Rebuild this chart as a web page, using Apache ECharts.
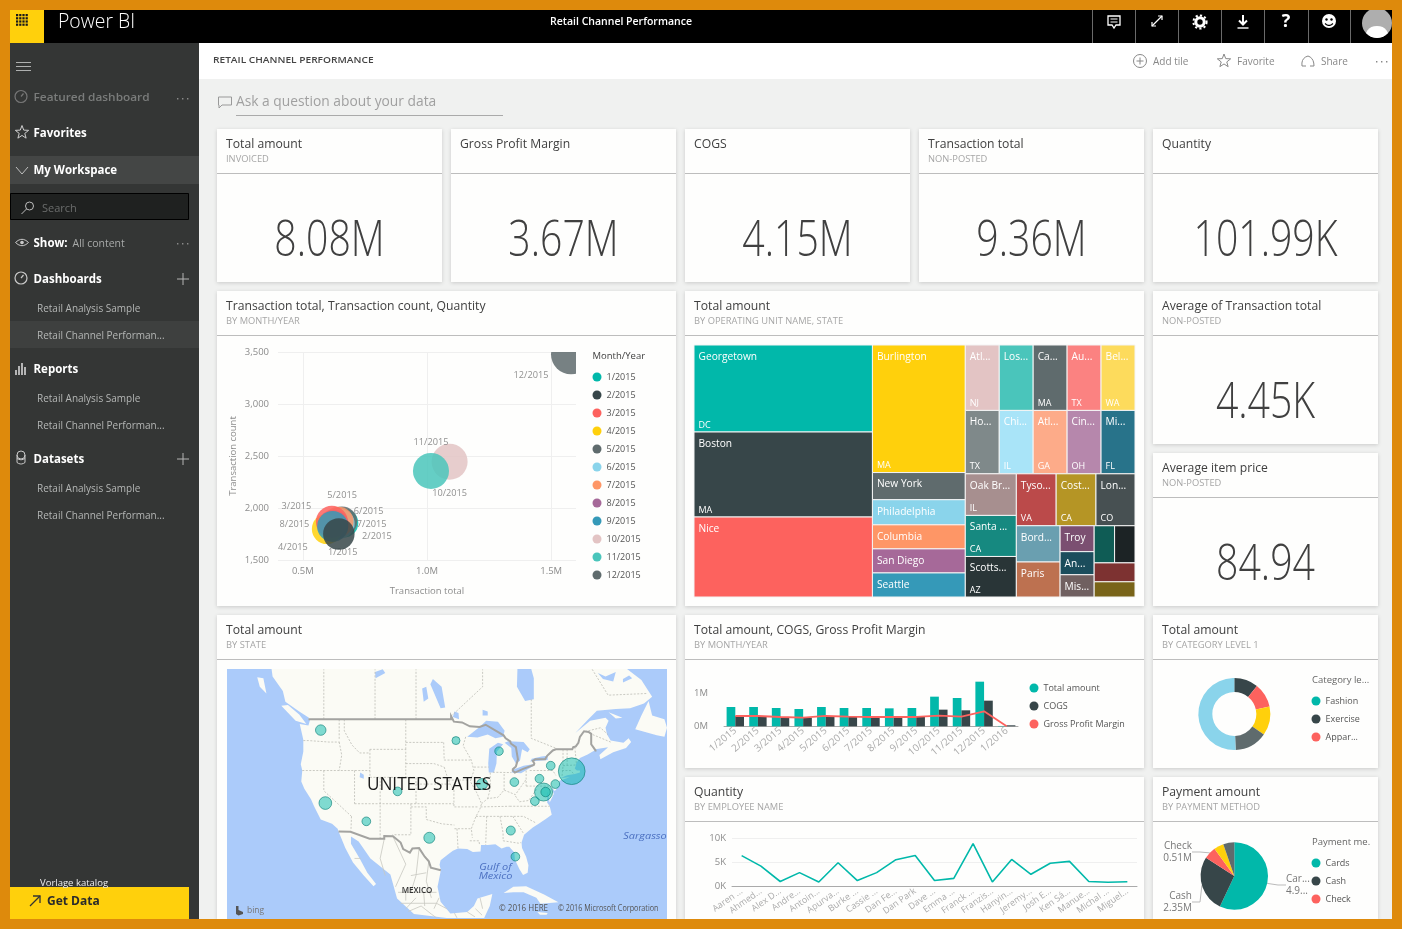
<!DOCTYPE html>
<html><head><meta charset="utf-8"><title>Retail Channel Performance</title>
<script src="https://cdn.jsdelivr.net/npm/echarts@6/dist/echarts.min.js"></script>
<style>html,body{margin:0;padding:0;background:#DE8A0C}#c{width:1402px;height:929px}</style></head>
<body><div id="c"></div>
<script>
/* ---------- data ---------- */
const kpiValues = ['8.08M','3.67M','4.15M','9.36M','101.99K'];
const kpiTitles = ['Total amount','Gross Profit Margin','COGS','Transaction total','Quantity'];
const kpiSubs = ['INVOICED','','','NON-POSTED',''];

const months = ['1/2015','2/2015','3/2015','4/2015','5/2015','6/2015','7/2015','8/2015','9/2015','10/2015','11/2015','12/2015'];
const txnTotalM = [0.665,0.645,0.617,0.597,0.658,0.648,0.644,0.623,0.620,1.091,1.016,1.580];
const txnCount = [1856,1750,1868,1798,1871,1849,1868,1839,1823,2445,2356,3478];
const monthQtyK = [7.7,9.1,9.4,8.3,8.3,8.3,8.3,8.3,8.8,11.9,11.9,14.7];

const tileNames = ['Georgetown','Boston','Nice','Burlington','New York','Philadelphia','Columbia','San Diego','Seattle',
 'Atl...','Los...','Ca...','Au...','Bel...','Ho...','Chi...','Atl...','Cin...','Mi...',
 'Oak Br...','Santa ...','Scotts...','Tyso...','Cost...','Lon...','Bord...','Paris','Troy','An...','Mis...','','','',''];
const tileStates = ['DC','MA','','MA','','','','','',
 'NJ','','MA','TX','WA','TX','IL','GA','OH','FL',
 'IL','CA','AZ','VA','CA','CO','','','','','','','','',''];
const tileValues = [1126,1100,1035,859,183,169,162,162,162,
 161,161,161,161,161,156,156,156,156,156,
 154,152,150,150,150,147,115,111,64,57,55,55,55,56,45];

const stateLonLat = [[-120.6,47.6],[-94.2,46.2],[-85.8,44.75],[-75.7,42.7],[-71.6,41.9],[-89.1,40.0],[-82.8,40.3],[-77.9,40.8],[-74.8,40.0],[-77.1,38.8],[-76.7,38.8],[-78.8,37.4],[-105.6,38.9],[-119.7,37.1],[-111.7,34.2],[-99.4,31.5],[-83.5,32.7],[-82.6,28.3]];
const stateAmountK = [328,190,215,225,2120,360,225,225,225,964,268,225,225,480,225,360,241,225];

const comboMonths = ['1/2015','2/2015','3/2015','4/2015','5/2015','6/2015','7/2015','8/2015','9/2015','10/2015','11/2015','12/2015','1/2016'];
const comboAmountM = [0.58,0.58,0.55,0.52,0.58,0.55,0.55,0.54,0.55,0.89,0.85,1.34,0.01];
const comboCogsM = [0.31,0.30,0.28,0.26,0.30,0.29,0.27,0.27,0.28,0.50,0.48,0.77,0.03];
const comboMargin = [0.465,0.465,0.42,0.39,0.465,0.435,0.42,0.42,0.42,0.48,0.435,0.675,0];

const employees = ['Aaren ...','Ahmed...','Alex D...','Andre...','Antoin...','Apurva...','Burke ...','Cassie ...','Dan Fe...','Dan Park','Dave ...','Emma ...','Franck ...','Franzis...','Hanyin...','Jeremy...','Josh E...','Ken Sá...','Manue...','Michal ...','Miguel...'];
const employeeQtyK = [6.4,4.2,1.0,2.85,0.9,4.9,1.2,2.85,5.55,6.4,1.2,1.65,8.9,0.9,5.6,2.5,4.8,5.2,1.0,0.85,0.95];

const categoryNames = ['Fashion','Exercise','Apparel','Footwear','Outdoor','Other'];
const categoryAmountK = [0,873,881,1050,1188,4088];

const paymentNames = ['Cards','Cash','Check','Gift card','Voucher'];
const paymentAmountM = [4.95,2.35,0.51,0.41,0.46];

/* ---------- styles / layout ---------- */
const pal = ['#01B8AA','#374649','#FD625E','#FFD00C','#5F6B6D','#8AD4EB','#FE9666','#A66999','#3599B8','#E3C4C4','#4AC5BB','#5F6B6D',
 '#FB8281','#FDDB5C','#7F898A','#A9E4F8','#FDAB89','#B687AC','#28738A','#A78F8F','#168980','#293537','#BB4A4A','#B59525','#475052','#6A9FB0','#BD7150','#7B4F71','#1B4D5C','#706060','#0F5C55','#1C2325','#7D3231','#796419'];
const F = '"Open Sans","Noto Sans",sans-serif';
const ocean = '#ABCBFA', land = '#FBFBF5';
const labelOffsets = [[-1,29],[38,2],[-35.5,-15],[-34,18],[0,-26],[29,-12],[33,3],[-39,0],null,[0,32],[0,-29],[-40,21]];
const seriesZ = [3,9,7,6,4,4,4,4,8,3,4,3];

/* Tile hierarchy: H = side by side, V = stacked; leaves index tileValues */
const H = (...k)=>({d:'h',k}), V = (...k)=>({d:'v',k});
const range = (a,b)=>{const r=[];for(let i=a;i<=b;i++)r.push(i);return r;};
const tileTree = H(V(0,1,2), V(3,V(4,5,6,7,8)),
  V(V(H(...range(9,13)),H(...range(14,18))),
    H(V(19,20,21), V(H(22,23,24), H(V(25,26),V(27,28,29),V(H(30,31),32,33))))));
const sumOf = n => typeof n==='number' ? tileValues[n] : n.k.reduce((s,c)=>s+sumOf(c),0);
const tileRects = [];
(function lay(n,x0,y0,x1,y1){
  if(typeof n==='number'){tileRects.push([x0,y0,x1,y1,n]);return;}
  const t=sumOf(n);let p=n.d==='h'?x0:y0;
  n.k.forEach(c=>{const f=sumOf(c)/t;
    if(n.d==='h'){const w=(x1-x0)*f;lay(c,p,y0,p+w,y1);p+=w;}
    else{const h=(y1-y0)*f;lay(c,x0,p,x1,p+h);p+=h;}});
})(tileTree,0,0,1,1);

/* ---------- map outlines (lon/lat) ---------- */
const usCan = [[-123,49],[-95.15,49],[-95.15,49.4],[-94.6,48.7],[-93,48.6],[-91.5,48.1],[-89.6,48],[-88.4,48.3],[-84.9,46.9],[-84.5,46.5],[-83.6,46.1],[-83.5,45.8],[-82.5,45.3],[-82.1,43.6],[-82.5,42.6],[-83.1,42.2],[-83.1,42],[-82.7,41.7],[-81.2,42.2],[-79,42.8],[-78.9,43],[-79.2,43.4],[-78.7,43.6],[-76.8,43.6],[-76.4,44.1],[-75.3,44.85],[-74.7,45],[-71.5,45],[-71.3,45.3],[-70.8,45.4],[-70.3,45.9],[-70,46.7],[-69.2,47.45],[-68.3,47.35],[-67.8,47.1],[-67.8,45.7],[-67.4,45.3],[-67,44.9]];
const usMex = [[-97.15,25.95],[-99.1,26.4],[-99.5,27.5],[-100.3,28.3],[-101.4,29.77],[-102.7,29.7],[-103.2,29],[-104.5,29.6],[-105,30.7],[-106.5,31.75],[-108.2,31.78],[-108.2,31.33],[-111.07,31.33],[-114.8,32.5],[-117.12,32.53]];
const usEast = [[-68.5,44.3],[-70,43.8],[-70.7,43.1],[-70.8,42.7],[-71,42.3],[-70.6,42],[-70,42],[-70,41.7],[-71,41.5],[-72.5,41.3],[-73.7,40.9],[-72,41],[-74,40.5],[-74.1,39.7],[-74.9,38.95],[-75.5,39.5],[-75.1,38.5],[-75.9,37.2],[-76.3,38.9],[-76.4,37.2],[-75.9,36.6],[-75.5,35.25],[-76.6,34.6],[-77.9,33.9],[-79.2,33.2],[-80.9,32],[-81.4,30.7],[-81.3,29.8],[-80.5,28.3],[-80.05,26.8],[-80.2,25.5],[-81.1,25.1],[-81.8,26.1],[-82.7,27.8],[-82.8,29],[-83.8,30],[-84.3,30],[-85.3,29.7],[-86.5,30.4],[-88,30.3],[-89.3,30.3],[-89.4,29.2],[-90.9,29.1],[-92,29.6],[-93.8,29.7],[-94.8,29.3],[-95.9,28.6],[-97.2,27.7],[-97.4,26.9]];
const usWest = [[-117.3,33],[-118.4,33.8],[-120.6,34.5],[-121.9,36.6],[-122.5,37.7],[-123.8,39.3],[-124.4,40.4],[-124.2,42],[-124.5,42.9],[-124,44.7],[-124,46.3],[-124.7,48.4],[-123,48.2],[-122.7,48.9]];
const canadaTop = [[-122.9,49.2],[-124.8,50],[-127.5,51.2],[-128,52.5],[-130,54.2],[-130.2,55.05],[-82.2,55.05],[-82.3,53],[-80.7,51.3],[-79,51.5],[-79,54],[-79.5,55.05],[-60.8,55.05],[-58,53.8],[-55.9,51.8],[-57.5,51],[-60.2,50.4],[-63,50.3],[-66.7,50.1],[-68.5,48.9],[-70.9,47.2],[-68,48.8],[-65,49.2],[-64.4,48.8],[-65,47.9],[-64.7,47],[-64,46.2],[-61.5,45.9],[-60.5,46.5],[-60,46],[-61,45.2],[-63.5,44.6],[-66,43.6],[-66.2,44.2],[-64.5,45.3],[-67,45]];
const mexicoRest = [[-97.8,23],[-97.2,20.3],[-95.3,18.1],[-92,18.4],[-90.7,19.5],[-90,20.9],[-87.1,21.7],[-87.6,19.5],[-88.7,17.3],[-96,17.3],[-102.4,18],[-105.7,20.9],[-107,25.2],[-110.9,28],[-113.2,30.9],[-114.7,31.7],[-114.7,30.5],[-113,28],[-111.5,25.5],[-109.8,23.5],[-110.3,23.1],[-112.2,25],[-114.3,27.3],[-115.8,29.8]];
const islands = [
 [[-59.2,47.7],[-58,49.5],[-56.6,51.3],[-55.9,49.5],[-53.5,49],[-53,47.9],[-53.5,46.7],[-55,46.9]],
 [[-123.4,48.4],[-125.5,48.8],[-128.3,50.7],[-127,50.8],[-124.8,49.6]],
 [[-84.9,21.9],[-83,23],[-80.5,23.1],[-77,21.6],[-74.2,20.2],[-77.7,19.9],[-78.5,21],[-81,22],[-83,22]],
 [[-78.3,18.4],[-76.3,18.2],[-76.5,17.9],[-77.8,17.9]],
 [[-64.4,49.9],[-61.7,49.2],[-63,49.1]],
 [[-133,54.1],[-131.8,54],[-131.2,52.2],[-132.5,53]]
];
const lakes = [
 [[-92,46.7],[-90,46.6],[-88,47],[-86.5,46.5],[-85,46.7],[-84.7,47.5],[-86,48.7],[-88.3,48.8],[-89.6,48]],
 [[-87.8,41.7],[-86.8,41.7],[-86.3,43],[-86.2,44.7],[-85,45.7],[-86,45.9],[-87.7,45.1],[-87.9,43]],
 [[-84.7,45.9],[-83.4,45.2],[-83.3,44],[-82.5,43],[-81.7,43.4],[-81.3,45],[-80.2,44.6],[-79.8,45],[-81,46],[-84,46.1]],
 [[-83.4,41.7],[-81.5,41.6],[-79,42.7],[-79.2,42.9],[-81,42.7],[-83.1,42.1]],
 [[-79.7,43.3],[-76.3,43.5],[-76.3,44.1],[-77.5,44],[-79.4,43.7]],
 [[-97.2,50.4],[-96.3,50.5],[-97,53],[-98.7,53.9],[-99.2,53.3]],
 [[-100.5,51.2],[-99.6,51.6],[-100,53],[-100.8,52.8]],
 [[-112.9,41.7],[-112.2,41.4],[-112.2,40.8],[-113,41]],
 [[-89,49.5],[-88,49.5],[-88,50],[-89,50.2]],
 [[-109.9,54],[-108,54.6],[-108.5,55],[-110,54.7]],
 [[-93.6,49],[-94.8,49.3],[-94.5,50],[-93.7,49.8]],
 [[-61.6,53.5],[-59.8,54],[-60.4,54.3],[-61.6,53.9]],
 [[-66.5,54.6],[-65,54.2],[-63,54.7],[-63.5,53.6],[-65.5,53.9]]
];
const stateLines = [
 [[-124,46.2],[-123,46.2],[-119,46],[-116.9,46]],[[-117,49],[-117,46.4]],[[-117,46],[-116.5,44.2],[-117,42]],
 [[-124.2,42],[-111,42]],[[-120,42],[-120,39],[-114.6,35]],[[-114,42],[-114,37]],[[-114.6,35],[-114.7,32.7]],
 [[-114,37],[-94.6,37]],[[-109,41],[-109,31.33]],[[-111,45],[-111,41],[-104,41],[-104,45],[-111,45]],
 [[-116,49],[-116,47.5],[-114.5,45.6],[-113,44.5],[-111,44.5]],[[-104,49],[-104,45]],[[-104,45.95],[-96.6,45.95]],
 [[-104,43],[-98.5,43],[-96.5,42.5]],[[-104,41],[-102,41],[-102,40],[-95.3,40]],[[-102,40],[-102,37]],[[-94.6,39.1],[-94.6,36.5]],
 [[-103,37],[-103,32],[-106.6,32]],[[-103,36.5],[-100,36.5],[-100,34.5],[-97,33.8],[-94.5,33.6]],[[-94.5,36.5],[-90,36.5]],
 [[-94.5,33],[-91.2,33]],[[-94,33],[-93.8,29.7]],[[-91.5,31],[-89.7,31],[-89.6,30.3]],
 [[-96.6,45.95],[-96.5,43.5],[-91.2,43.5]],[[-92.3,46.7],[-92.8,45.5],[-91.2,43.5],[-90.7,42],[-91.4,40.4],[-90.2,38.8],[-89.2,37],[-89.6,36],[-90.3,35],[-91.2,33],[-91,31.5]],
 [[-95.7,40.6],[-91.7,40.6]],[[-96.5,42.5],[-95.7,40.6],[-95.3,40],[-94.6,39.1]],[[-90.7,42.5],[-87.8,42.5]],[[-87.5,41.7],[-87.5,39.3],[-88,37.8]],
 [[-89.2,37],[-88,37.8],[-86,38],[-84.8,39.1],[-82.6,38.4],[-80.6,40.6]],[[-84.8,39.1],[-84.8,41.7]],[[-87,41.75],[-83.4,41.7]],
 [[-80.5,42],[-80.5,39.7]],[[-79.8,42],[-75.3,42],[-74.7,41.3]],[[-80.5,39.7],[-75.8,39.7]],[[-82.6,38.2],[-81.8,37.3],[-80,37.5],[-78.3,39.4]],
 [[-83.7,36.6],[-75.9,36.6]],[[-89.4,36.5],[-83.7,36.6]],[[-90.3,35],[-84.3,35]],[[-84.3,35],[-83,35],[-81,35],[-78.5,33.9]],
 [[-85.6,35],[-85,32.3],[-85,31]],[[-88.2,35],[-88.4,30.3]],[[-83.1,35],[-81,32.2]],[[-85,31],[-82,30.6],[-81.5,30.7]],
 [[-73.3,45],[-73.3,42.7],[-73.5,41.1]],[[-72.5,45],[-72.5,42.7]],[[-73.3,42.7],[-70.8,42.8]],[[-73.5,42],[-71.8,42],[-71.2,41.5]],[[-71,45.3],[-70.7,43.1]],
 [[-120,49],[-120,55]],[[-110,49],[-110,55]],[[-102,49],[-102,55]],[[-95.15,49.4],[-89,53],[-89,55]],[[-79.5,51.5],[-79.5,46.5],[-74.5,45.1]],
 [[-69,47.4],[-66,47.9],[-64.5,47]],[[-67.5,47],[-64,46]],[[-67.6,55],[-64.5,52],[-57,52.2]]
];
const mexicoLines = [
 [[-108.2,31.3],[-109,28],[-108,25]],[[-106.5,31.7],[-104,27],[-106,23]],[[-101.4,29.7],[-102,25],[-103,22]],[[-99.5,27.5],[-100,24],[-99,21]],
 [[-112.8,28],[-114,28]],[[-105.5,22],[-102,22],[-98,22]],[[-105,20],[-102,20],[-98,20],[-96,19]],[[-103.5,18.5],[-101,19.5],[-99,18],[-98,17.3]],[[-94.5,18.2],[-94,17.3]],[[-90.4,19],[-89.1,17.8]],[[-92,18.4],[-90.5,17.5]],
 [[-103,25],[-100,25.5]],[[-104,22.5],[-104,20.5]],[[-100.5,22],[-100.3,19.5]],[[-97.5,21],[-98.5,19]],[[-102,21],[-104,19]],[[-89,19],[-89.5,21]]
];
const merc = lat => Math.log(Math.tan(Math.PI/4+lat*Math.PI/360))*180/Math.PI;
const imerc = y => (2*Math.atan(Math.exp(y*Math.PI/180))-Math.PI/2)*180/Math.PI;
echarts.registerMap('northAmerica',{type:'FeatureCollection',features:[
 {type:'Feature',properties:{name:'Canada'},geometry:{type:'MultiPolygon',coordinates:[[canadaTop.concat(usCan.slice().reverse())],...islands.slice(0,2).concat(islands.slice(4)).map(r=>[r])]}},
 {type:'Feature',properties:{name:'USA'},geometry:{type:'Polygon',coordinates:[usCan.concat(usEast,usMex,usWest)]}},
 {type:'Feature',properties:{name:'Mexico'},geometry:{type:'Polygon',coordinates:[usMex.slice().reverse().concat(mexicoRest)]}},
 {type:'Feature',properties:{name:'Islands'},geometry:{type:'MultiPolygon',coordinates:islands.slice(2,4).map(r=>[r])}},
 {type:'Feature',properties:{name:'Lakes'},geometry:{type:'MultiPolygon',coordinates:lakes.map(r=>[r])}}
]});

/* ---------- chrome helpers ---------- */
const G = [];
const rect=(x,y,w,h,fill,z=-5,extra)=>G.push({type:'rect',silent:true,z,shape:{x,y,width:w,height:h},style:Object.assign({fill},extra||{})});
const T=(x,y,text,font,fill,align='left',sx=1,z=-1,extra)=>G.push({type:'text',silent:true,x,y:y+3,scaleX:sx,z,style:Object.assign({text,x:0,y:0,font,fill,align,textAlign:align,verticalAlign:'middle',textVerticalAlign:'middle'},extra||{})});
const line=(x1,y1,x2,y2,stroke,lw=1,z=-1)=>G.push({type:'line',silent:true,z,shape:{x1,y1,x2,y2},style:{stroke,lineWidth:lw}});
const circ=(cx,cy,r,style,z=-1)=>G.push({type:'circle',silent:true,z,shape:{cx,cy,r},style});
/* icon outlines: tiny M/L/H/V/Q/Z reader emitting polyline / polygon elements */
function poly(d,stroke,fill,lw=1,z=-1){
  const tk=d.match(/[MLHVQZ]|-?[\d.]+/g);let i=0,cur=null,pts=[],x=0,y=0;
  const flush=c=>{if(pts.length>1)G.push({type:(c||fill)?'polygon':'polyline',silent:true,z,shape:{points:pts},style:{stroke:stroke||'none',fill:fill||'none',lineWidth:lw}});pts=[];};
  while(i<tk.length){
    if(/[A-Z]/.test(tk[i]))cur=tk[i++];
    if(cur==='Z'){flush(true);continue;}
    if(cur==='M'){flush();x=+tk[i++];y=+tk[i++];pts=[[x,y]];cur='L';continue;}
    if(cur==='L'){x=+tk[i++];y=+tk[i++];}
    if(cur==='H'){x=+tk[i++];}
    if(cur==='V'){y=+tk[i++];}
    if(cur==='Q'){const cx=+tk[i++],cy=+tk[i++],ex=+tk[i++],ey=+tk[i++];
      for(let t=0.2;t<1;t+=0.2)pts.push([(1-t)*(1-t)*x+2*t*(1-t)*cx+t*t*ex,(1-t)*(1-t)*y+2*t*(1-t)*cy+t*t*ey]);x=ex;y=ey;}
    pts.push([x,y]);
  }
  flush();
}
const star=(cx,cy,r,stroke)=>{const p=[];for(let i=0;i<10;i++){const a=-Math.PI/2+i*Math.PI/5,q=i%2?r*0.42:r;p.push([cx+q*Math.cos(a),cy+q*Math.sin(a)]);}
  G.push({type:'polygon',silent:true,z:-1,shape:{points:p},style:{stroke,fill:'none',lineWidth:1}});};
const dots=(x,y,c)=>[0,5,10].forEach(d=>rect(x+d,y,1.4,1.4,c,-1));

/* page */
rect(199,43,1193,876,'#F0F1F0',-9);
rect(199,43,1193,36,'#FFFFFF',-8);
rect(10,10,1382,33,'#000000',-8);
rect(10,10,34,33,'#FFD00C',-7);
for(let i=0;i<4;i++)for(let j=0;j<4;j++)rect(16+i*3.2,14+j*3.2,2.2,2.2,'#1a1a1a',-6);
T(58,19,'Power BI','300 20px '+F,'#FFFFFF','left',0.97);
T(621,19,'Retail Channel Performance','600 10.5px '+F,'#FFFFFF','center');
[1092.5,1135.5,1178.5,1221.5,1264.5,1308.5,1350.5].forEach(x=>line(x,10,x,43,'#6a6a6a',1));
/* header icons */
poly('M1108 16H1120V25H1116L1114 28L1112 25H1108Z','#fff',null,1.3);
line(1110.5,19,1117.5,19,'#fff');line(1110.5,22,1117.5,22,'#fff');
line(1152,26,1162,16,'#fff',1.2);poly('M1158 16H1162V20','#fff',null,1.2);poly('M1152 22V26H1156','#fff',null,1.2);
circ(1200,22,4.2,{stroke:'#fff',fill:'none',lineWidth:3});
circ(1200,22,6.6,{stroke:'#fff',fill:'none',lineWidth:2,lineDash:[2.2,2.2]});
poly('M1243 15V24M1239 20.5L1243 24.5L1247 20.5','#fff',null,2);line(1237.5,28,1248.5,28,'#fff',1.4);
T(1286,19,'?','bold 18px '+F,'#fff','center');
circ(1329,21,7,{fill:'#fff'});circ(1326.5,19.5,1.2,{fill:'#000'});circ(1331.5,19.5,1.2,{fill:'#000'});
poly('M1325 23.5Q1329 27.5 1333 23.5','#000',null,1.2);
circ(1377,23,15,{fill:'#AEAEAE'});
poly('M1366 33Q1369 26 1377 26Q1385 26 1388 33Q1383 38 1377 38Q1371 38 1366 33Z',null,'#FFFFFF',0);

/* sidebar */
rect(10,43,189,876,'#343635',-8);
[62.5,66.5,70.5].forEach(y=>line(16,y,31,y,'#aeb0af',1));
circ(21,96.5,6,{stroke:'#777',fill:'none',lineWidth:1.2});line(21,96.5,23.5,93.5,'#777',1.2);
T(33.5,95,'Featured dashboard','600 11.5px '+F,'#7a7c7b','left',1.03);
dots(177,98,'#8a8a8a');
star(22,132.5,7,'#cfcfcf');
T(33.5,131,'Favorites','bold 11.5px '+F,'#FFFFFF');
rect(10,156,189,28,'#444645',-7);
poly('M16 167L22 174L28 167','#bfbfbf',null,1);
T(33.5,168,'My Workspace','bold 11.5px '+F,'#FFFFFF');
rect(10.5,193.5,178,26,'#1F2120',-7,{stroke:'#000',lineWidth:1});
circ(29.5,206,4,{stroke:'#bdbdbd',fill:'none',lineWidth:1});line(26.5,209,21.5,214,'#bdbdbd',1);
T(42,206,'Search','11px '+F,'#6b6d6c');
poly('M15.5 242.5Q22 236 28.5 242.5Q22 249 15.5 242.5Z','#c9c9c9',null,1);circ(22,242.5,1.8,{fill:'#c9c9c9'});
T(33.5,241,'Show:','bold 11.5px '+F,'#FFFFFF');
T(72.5,241,'All content','10.5px '+F,'#a8aaa9');
dots(177,243,'#8a8a8a');
circ(21,278,6,{stroke:'#c9c9c9',fill:'none',lineWidth:1.2});line(21,278,23.5,275,'#c9c9c9',1.2);
T(33.5,277,'Dashboards','bold 11.5px '+F,'#FFFFFF');
[[178.5,279],[178.5,459]].forEach(p=>{line(p[0]-1.5,p[1],p[0]+10.5,p[1],'#b5b5b5');line(p[0]+4.5,p[1]-6,p[0]+4.5,p[1]+6,'#b5b5b5');});
rect(10,321,189,27,'#3E403F',-7);
[[306,'Retail Analysis Sample'],[333,'Retail Channel Performan...'],[396,'Retail Analysis Sample'],[423,'Retail Channel Performan...'],[486,'Retail Analysis Sample'],[513,'Retail Channel Performan...']].forEach(r=>T(37,r[0],r[1],'10px '+F,'#b4b6b5'));
[[15,370,2,5],[18,366,2,9],[21,363,2,12],[24,367,2,8]].forEach(r=>rect(r[0],r[1],r[2],r[3],'#b5b5b5',-6));
T(33.5,367,'Reports','bold 11.5px '+F,'#FFFFFF');
G.push({type:'circle',silent:true,z:-1,shape:{cx:21,cy:455,r:4},style:{stroke:'#c9c9c9',fill:'none'}});
poly('M17 455V462.5Q21 465.5 25 462.5V455M17 458.5Q21 461 25 458.5','#c9c9c9',null,1);
T(33.5,457,'Datasets','bold 11.5px '+F,'#FFFFFF');
T(40,880,'Vorlage katalog','9.5px '+F,'#ececec');
rect(10,887,179,32,'#FFD00C',-6);
poly('M30 906L40 896M33 896H40V903','#333',null,1.3);
T(47,899,'Get Data','bold 12px '+F,'#2b2b2b');

/* top bar of content */
T(213,57.5,'RETAIL CHANNEL PERFORMANCE','600 8.6px '+F,'#444','left',1.18);
circ(1140,61,6.5,{stroke:'#888',fill:'none',lineWidth:1});line(1136.5,61,1143.5,61,'#888');line(1140,57.5,1140,64.5,'#888');
T(1153,59,'Add tile','10px '+F,'#888');
star(1224,61,7,'#888');T(1237,59,'Favorite','10px '+F,'#888');
poly('M1302 66Q1301 58 1308 56Q1314 58 1314 66M1302 66H1306M1310 66H1314','#888',null,1);
T(1321,59,'Share','10px '+F,'#888');
dots(1376,61,'#888');
/* ask bar */
poly('M218.5 97H231.5V105H222L219 108V105H218.5Z','#999',null,1);
T(236,99,'Ask a question about your data','14px '+F,'#a0a0a0','left',0.985);
line(236,115.5,503,115.5,'#aaa');

/* cards */
const shadow={shadowBlur:4,shadowColor:'rgba(0,0,0,0.16)',shadowOffsetY:1};
function card(x,y,w,h,title,sub){
  rect(x,y,w,h,'#FEFEFD',-7,shadow);
  line(x,y+44.5,x+w,y+44.5,'#BDBDBD');
  T(x+9,y+12.5,title,'12.5px '+F,'#404040','left',0.975);
  if(sub)T(x+9,y+27.5,sub,'8.8px '+F,'#a6a6a6','left',1.06);
}
const bigFont='300 49px '+F;
[217,451,685,919,1153].forEach((x,i)=>{card(x,129,225,153,kpiTitles[i],kpiSubs[i]);
  T(x+112.5,239,kpiValues[i],bigFont,'#404040','center',0.8);});
card(217,291,459,315,'Transaction total, Transaction count, Quantity','BY MONTH/YEAR');
card(685,291,459,315,'Total amount','BY OPERATING UNIT NAME, STATE');
card(1153,291,225,153,'Average of Transaction total','NON-POSTED');
T(1265.5,401,'4.45K',bigFont,'#404040','center',0.8);
card(1153,453,225,153,'Average item price','NON-POSTED');
T(1265.5,563,'84.94',bigFont,'#404040','center',0.8);
card(217,615,459,304,'Total amount','BY STATE');
card(685,615,459,153,'Total amount, COGS, Gross Profit Margin','BY MONTH/YEAR');
card(1153,615,225,153,'Total amount','BY CATEGORY LEVEL 1');
card(685,777,459,142,'Quantity','BY EMPLOYEE NAME');
card(1153,777,225,142,'Payment amount','BY PAYMENT METHOD');
T(592.5,353,'Month/Year','9.5px '+F,'#404040');
T(1312,677,'Category le...','9.5px '+F,'#666');
T(1312,839,'Payment me.','9.5px '+F,'#666');
rect(227,669,440,250,ocean,-3);

/* the plot area of the bubble chart crops the largest bubble */
rect(548,330,43.5,22,'#FEFEFD',20);
rect(576,352,15.5,30,'#FEFEFD',20);
line(548,335.5,592,335.5,'#BDBDBD',1,21);

/* map overlay labels */
T(429,782,'UNITED STATES','17.5px '+F,'#1a1a1a','center',0.98,50);
T(417,888,'MEXICO','600 8px '+F,'#333','center',1,50);
T(645,833,'Sargasso','italic 9.5px '+F,'#4a6fc0','center',1.15,50);
T(495.5,864.5,'Gulf of','italic 9.5px '+F,'#4a6fc0','center',1.15,50);
T(495.5,873,'Mexico','italic 9.5px '+F,'#4a6fc0','center',1.15,50);
T(247,908,'bing','8.5px '+F,'#777','left',1,50);
poly('M236 906H238.5V910L243 912V914L238.5 915.5L236 914Z',null,'#555',0,50);
T(499,906,'© 2016 HERE','8.4px '+F,'#555','left',0.96,50);
T(558,906,'© 2016 Microsoft Corporation','8.4px '+F,'#555','left',0.86,50);

/* orange frame on top */
const frame='#DE8A0C';
rect(0,0,1402,10,frame,90);rect(0,919,1402,10,frame,90);rect(0,0,10,929,frame,90);rect(1392,0,10,929,frame,90);

/* ---------- chart option ---------- */
const axisLbl={color:'#8c8c8c',fontSize:9.5,fontFamily:F};
const legendBase={orient:'vertical',icon:'circle',padding:0,itemWidth:9,itemHeight:9,selectedMode:false,itemStyle:{opacity:1},textStyle:{color:'#555',fontSize:9,fontFamily:F}};
const scatterSeries=months.map((m,i)=>({
  name:m,type:'scatter',xAxisIndex:0,yAxisIndex:0,z:seriesZ[i],clip:true,
  data:[[txnTotalM[i],txnCount[i],monthQtyK[i]]],
  symbolSize:d=>Math.sqrt(d[2]*109),
  itemStyle:{color:pal[i],opacity:0.85},
  label:labelOffsets[i]?{show:true,position:'inside',offset:labelOffsets[i],formatter:m,color:'#7c7c7c',fontSize:9.2,fontFamily:F}:{show:false},
  emphasis:{disabled:true}
}));

/* positions of the payment pie's outside labels */
const payLabelAt=[{x:1286,y:885,align:'left'},{x:1192,y:902,align:'right'},{x:1192,y:852,align:'right'}];

const option={
 animation:false,
 textStyle:{fontFamily:F},
 graphic:{elements:G},
 geo:{map:'northAmerica',roam:false,silent:true,left:227,top:669,width:440,height:250,
   boundingCoords:[[-138.9,imerc(66.2)],[-53,imerc(17.35)]],
   projection:{project:p=>[p[0],-merc(p[1])],unproject:p=>[p[0],imerc(-p[1])]},
   itemStyle:{areaColor:land,borderWidth:0},
   regions:[{name:'Lakes',itemStyle:{areaColor:ocean}}],
   label:{show:false},emphasis:{disabled:true},select:{disabled:true}},
 grid:[
  {left:278,top:352,width:298,height:208},
  {left:694,top:345,width:441,height:252},
  {left:724,top:659.7,width:294,height:66.6},
  {left:732,top:838.3,width:405,height:48}
 ],
 xAxis:[
  {gridIndex:0,type:'value',min:0.4,max:1.6,name:'Transaction total',nameLocation:'middle',nameGap:26,nameTextStyle:{color:'#8c8c8c',fontSize:9.5,fontFamily:F},
   axisLine:{show:false},axisTick:{show:false,customValues:[0.5,1,1.5]},
   axisLabel:Object.assign({customValues:[0.5,1,1.5],margin:6,formatter:v=>v.toFixed(1)+'M'},axisLbl),
   splitLine:{show:true,lineStyle:{color:'#EFEFEF'}}},
  {gridIndex:1,type:'value',min:0,max:1,show:false},
  {gridIndex:2,type:'category',data:comboMonths,axisLine:{lineStyle:{color:'#AAAAAA'}},axisTick:{show:false},
   axisLabel:Object.assign({},axisLbl,{rotate:40,interval:0,margin:3,color:'#ABABAB',fontSize:10})},
  {gridIndex:3,type:'category',data:employees,axisLine:{lineStyle:{color:'#AAAAAA'}},axisTick:{show:false},
   axisLabel:Object.assign({},axisLbl,{rotate:35,interval:0,margin:4,color:'#ABABAB',fontSize:9})}
 ],
 yAxis:[
  {gridIndex:0,type:'value',min:1500,max:3500,interval:500,name:'Transaction count',nameLocation:'middle',nameGap:40,nameTextStyle:{color:'#8c8c8c',fontSize:9.5,fontFamily:F},
   axisLine:{show:false},axisTick:{show:false},
   axisLabel:Object.assign({margin:9,formatter:v=>v.toLocaleString('en-US')},axisLbl),
   splitLine:{lineStyle:{color:'#EFEFEF'}}},
  {gridIndex:1,type:'value',min:0,max:1,inverse:true,show:false},
  {gridIndex:2,type:'value',min:0,max:2,interval:1,axisLine:{show:false},axisTick:{show:false},splitLine:{show:false},
   axisLabel:Object.assign({margin:16,showMaxLabel:false,formatter:v=>v+'M'},axisLbl)},
  {gridIndex:2,type:'value',min:0,max:3,show:false},
  {gridIndex:3,type:'value',min:0,max:10,interval:5,axisLine:{show:false},axisTick:{show:false},splitLine:{lineStyle:{color:'#EFEFEF'}},
   axisLabel:Object.assign({margin:6,formatter:v=>v+'K'},axisLbl)}
 ],
 legend:[
  Object.assign({},legendBase,{left:592.5,top:372.5,itemGap:9,data:months}),
  Object.assign({},legendBase,{left:1029.5,top:683.5,itemGap:9,data:['Total amount','COGS','Gross Profit Margin']}),
  Object.assign({},legendBase,{left:1311.5,top:696.5,itemGap:9,data:['Fashion','Exercise','Apparel'],formatter:n=>n==='Apparel'?'Appar...':n}),
  Object.assign({},legendBase,{left:1311.5,top:858.5,itemGap:9,data:['Cards','Cash','Check']})
 ],
 series:[
  ...scatterSeries,
  {name:'Tiles',type:'custom',xAxisIndex:1,yAxisIndex:1,clip:false,silent:true,
   data:tileRects,encode:{x:[0,2],y:[1,3]},
   renderItem:(p,api)=>{
     const a=api.coord([api.value(0),api.value(1)]),b=api.coord([api.value(2),api.value(3)]),i=api.value(4);
     const kids=[{type:'rect',shape:{x:a[0],y:a[1],width:b[0]-a[0],height:b[1]-a[1]},style:{fill:pal[i],stroke:'#F4F4F4',lineWidth:1}}];
     if(tileNames[i])kids.push({type:'text',style:{text:tileNames[i],x:a[0]+4.5,y:a[1]+12,fill:'#fff',font:'10.2px '+F,align:'left',verticalAlign:'middle',textAlign:'left',textVerticalAlign:'middle'}});
     if(tileStates[i])kids.push({type:'text',style:{text:tileStates[i],x:a[0]+4.5,y:b[1]-7,fill:'#fff',font:'9px '+F,align:'left',verticalAlign:'middle',textAlign:'left',textVerticalAlign:'middle'}});
     return {type:'group',children:kids};
   }},
  {name:'state borders',type:'lines',coordinateSystem:'geo',polyline:true,silent:true,z:1,
   data:stateLines.map(c=>({coords:c})),lineStyle:{color:'#BDBDB5',width:0.8,type:[2,1.5],opacity:1}},
  {name:'mexico borders',type:'lines',coordinateSystem:'geo',polyline:true,silent:true,z:1,
   data:mexicoLines.map(c=>({coords:c})),lineStyle:{color:'#C8C8C0',width:0.8,opacity:1}},
  {name:'country borders',type:'lines',coordinateSystem:'geo',polyline:true,silent:true,z:1.5,
   data:[{coords:usCan.concat([[-66.9,44.7]])},{coords:usMex}],lineStyle:{color:'#A3A3A0',width:2,opacity:1}},
  {name:'Total amount by state',type:'scatter',coordinateSystem:'geo',geoIndex:0,z:5,silent:true,
   data:stateLonLat.map((c,i)=>[c[0],c[1],stateAmountK[i]]),
   symbolSize:d=>Math.sqrt(d[2]*0.336),
   itemStyle:{color:'rgba(1,184,170,0.62)',borderColor:'#0E7F77',borderWidth:0.8}},
  {name:'Total amount',type:'bar',xAxisIndex:2,yAxisIndex:2,data:comboAmountM,barWidth:8.7,barGap:'0%',itemStyle:{color:pal[0]}},
  {name:'COGS',type:'bar',xAxisIndex:2,yAxisIndex:2,data:comboCogsM,barWidth:8.7,itemStyle:{color:pal[1]}},
  {name:'Gross Profit Margin',type:'line',xAxisIndex:2,yAxisIndex:3,data:comboMargin,symbol:'none',z:4,lineStyle:{color:pal[2],width:1.8},itemStyle:{color:pal[2]}},
  {name:'Quantity',type:'line',xAxisIndex:3,yAxisIndex:4,data:employeeQtyK,symbol:'none',lineStyle:{color:pal[0],width:1.6},itemStyle:{color:pal[0]}},
  {name:'Total amount by category',type:'pie',center:[1234.3,714],radius:[22,36],silent:true,label:{show:false},labelLine:{show:false},
   data:categoryNames.map((n,i)=>({name:n,value:categoryAmountK[i],itemStyle:{color:pal[i]}}))},
  {name:'Payment amount',type:'pie',center:[1234.3,876],radius:33.7,silent:true,avoidLabelOverlap:false,
   labelLine:{length:8,length2:8,lineStyle:{color:'#bbb',width:1}},
   labelLayout:p=>p.dataIndex<3?Object.assign({verticalAlign:'middle'},payLabelAt[p.dataIndex]):{},
   data:paymentNames.map((n,i)=>({name:n,value:paymentAmountM[i],itemStyle:{color:pal[i]},
     label:i<3?{show:true,color:'#777',fontSize:10,lineHeight:11.5,fontFamily:F,
       formatter:i==0?'Car...\n4.9...':n+'\n'+paymentAmountM[i].toFixed(2)+'M'}:{show:false},
     labelLine:{show:i<3}}))}
 ]
};
const chart=echarts.init(document.getElementById('c'),null,{width:1402,height:929});
chart.setOption(option);
</script></body></html>
